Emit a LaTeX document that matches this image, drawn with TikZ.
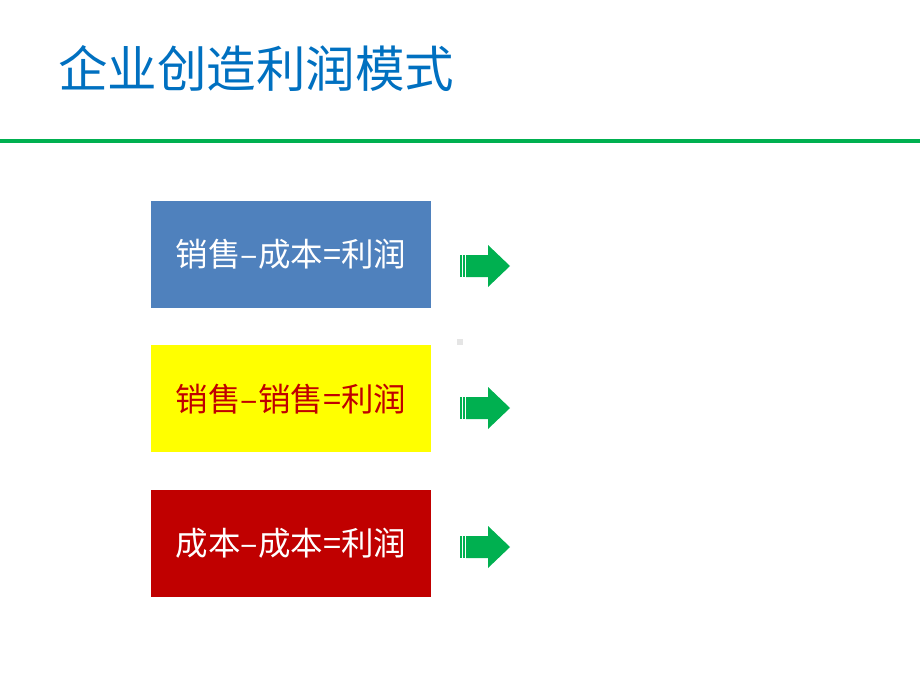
\documentclass[tikz,border=0pt]{standalone}
\usepackage{fontspec}
\setmainfont{Noto Sans CJK SC}
\usetikzlibrary{positioning}
\definecolor{titleblue}{HTML}{0070C0}
\definecolor{rulegreen}{HTML}{00B050}
\definecolor{boxblue}{HTML}{4F81BD}
\definecolor{boxred}{HTML}{C00000}
\definecolor{boxyellow}{HTML}{FFFF00}

\begin{document}
\begin{tikzpicture}[x=1pt,y=-1pt,
    box/.style={minimum width=280pt,minimum height=107pt,inner sep=0pt,
        font=\fontsize{32.5}{32.5}\selectfont},
    stripe/.style={fill=rulegreen}]
    \useasboundingbox (0,0) rectangle (920,690);
    % title and rule
    \node[anchor=base west,inner sep=0pt,text=titleblue,
        font=\fontsize{49.5}{49.5}\selectfont] (title) at (58,88) {企业创造利润模式};
    \fill[rulegreen] (0,139) rectangle (920,143);
    % the three boxes
    \node[box,fill=boxblue,text=white] (sales) at (291,254.5) {销售–成本=利润};
    \node[box,fill=boxyellow,text=boxred,below=37pt of sales] (sell) {销售–销售=利润};
    \node[box,fill=boxred,text=white,below=37pt of sell] (cost) {成本–成本=利润};
    % striped arrows
    \foreach \y in {266,408,547} {
        \fill[stripe] (459.5,\y-11) rectangle (461.5,\y+11);
        \fill[stripe] (462.8,\y-11) rectangle (464.8,\y+11);
        \fill[stripe] (466,\y-11) -- (488,\y-11) -- (488,\y-21) -- (510,\y)
            -- (488,\y+21) -- (488,\y+11) -- (466,\y+11) -- cycle;
    }
    \fill[gray!20] (457,339) rectangle (463,345);
\end{tikzpicture}
\end{document}
